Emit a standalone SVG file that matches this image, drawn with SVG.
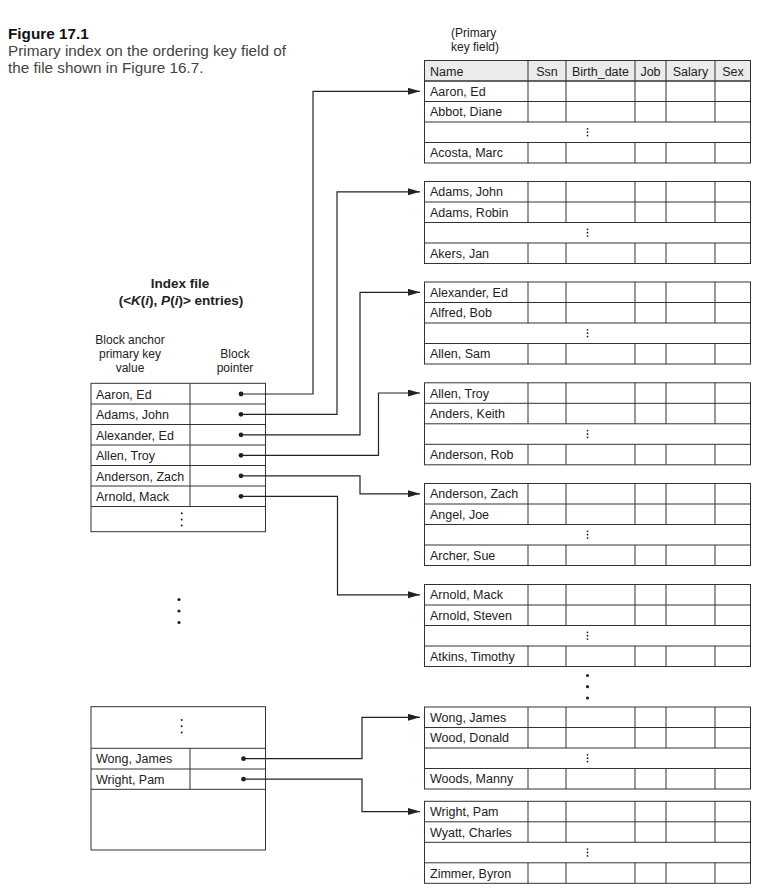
<svg xmlns="http://www.w3.org/2000/svg" width="764" height="890" viewBox="0 0 764 890">
<style>
text{font-family:"Liberation Sans",Arial,sans-serif;fill:#222}
.cap{font-size:15.3px;fill:#444}
.capb{font-size:15.3px;font-weight:bold;fill:#111}
.t{font-size:12.5px}
.h{font-size:12px}
.hb{font-size:13.5px;font-weight:bold}
.c{text-anchor:middle}
.box{fill:#fff;stroke:#333;stroke-width:1}
.hdr{fill:#ebebeb;stroke:#333;stroke-width:1}
.ln{stroke:#333;stroke-width:1;fill:none}
.con{stroke:#222;stroke-width:1.2;fill:none;marker-end:url(#arr)}
.dot{fill:#222}
</style>
<defs>
<marker id="arr" markerUnits="userSpaceOnUse" markerWidth="13" markerHeight="8" refX="12" refY="3.5" orient="auto">
<path d="M0,0 L12,3.5 L0,7 z" fill="#222"/>
</marker>
<g id="cols">
<line class="ln" x1="528" y1="0" x2="528" y2="41"/>
<line class="ln" x1="566" y1="0" x2="566" y2="41"/>
<line class="ln" x1="635" y1="0" x2="635" y2="41"/>
<line class="ln" x1="666" y1="0" x2="666" y2="41"/>
<line class="ln" x1="715" y1="0" x2="715" y2="41"/>
<line class="ln" x1="528" y1="61.5" x2="528" y2="82"/>
<line class="ln" x1="566" y1="61.5" x2="566" y2="82"/>
<line class="ln" x1="635" y1="61.5" x2="635" y2="82"/>
<line class="ln" x1="666" y1="61.5" x2="666" y2="82"/>
<line class="ln" x1="715" y1="61.5" x2="715" y2="82"/>
<rect class="ln" x="424.5" y="0" width="326" height="82"/>
<line class="ln" x1="424.5" y1="20.5" x2="750.5" y2="20.5"/>
<line class="ln" x1="424.5" y1="41" x2="750.5" y2="41"/>
<line class="ln" x1="424.5" y1="61.5" x2="750.5" y2="61.5"/>
<circle class="dot" cx="587.5" cy="47.8" r="0.9"/>
<circle class="dot" cx="587.5" cy="51.2" r="0.9"/>
<circle class="dot" cx="587.5" cy="54.6" r="0.9"/>
</g>
</defs>

<g id="caption">
<text class="capb" x="8" y="39">Figure 17.1</text>
<text class="cap" x="8" y="56">Primary index on the ordering key field of</text>
<text class="cap" x="8" y="72.5">the file shown in Figure 16.7.</text>
</g>

<g id="pk-label">
<text class="h" x="451" y="37">(Primary</text>
<text class="h" x="451" y="51">key field)</text>
</g>

<g id="data-header">
<rect class="hdr" x="424.5" y="60.5" width="326" height="20.5"/>
<line class="ln" x1="528" y1="60.5" x2="528" y2="81"/>
<line class="ln" x1="566" y1="60.5" x2="566" y2="81"/>
<line class="ln" x1="635" y1="60.5" x2="635" y2="81"/>
<line class="ln" x1="666" y1="60.5" x2="666" y2="81"/>
<line class="ln" x1="715" y1="60.5" x2="715" y2="81"/>
<text class="t" x="430" y="75.5">Name</text>
<text class="t c" x="547" y="75.5">Ssn</text>
<text class="t c" x="600.5" y="75.5">Birth_date</text>
<text class="t c" x="650.5" y="75.5">Job</text>
<text class="t c" x="690.5" y="75.5">Salary</text>
<text class="t c" x="733" y="75.5">Sex</text>
</g>

<g id="block1">
<use href="#cols" y="81"/>
<text class="t" x="430" y="95.8">Aaron, Ed</text>
<text class="t" x="430" y="116.3">Abbot, Diane</text>
<text class="t" x="430" y="157.3">Acosta, Marc</text>
</g>
<g id="block2">
<use href="#cols" y="181.5"/>
<text class="t" x="430" y="196.3">Adams, John</text>
<text class="t" x="430" y="216.8">Adams, Robin</text>
<text class="t" x="430" y="257.8">Akers, Jan</text>
</g>
<g id="block3">
<use href="#cols" y="282"/>
<text class="t" x="430" y="296.8">Alexander, Ed</text>
<text class="t" x="430" y="317.3">Alfred, Bob</text>
<text class="t" x="430" y="358.3">Allen, Sam</text>
</g>
<g id="block4">
<use href="#cols" y="382.8"/>
<text class="t" x="430" y="397.6">Allen, Troy</text>
<text class="t" x="430" y="418.1">Anders, Keith</text>
<text class="t" x="430" y="459.1">Anderson, Rob</text>
</g>
<g id="block5">
<use href="#cols" y="483.5"/>
<text class="t" x="430" y="498.3">Anderson, Zach</text>
<text class="t" x="430" y="518.8">Angel, Joe</text>
<text class="t" x="430" y="559.8">Archer, Sue</text>
</g>
<g id="block6">
<use href="#cols" y="584.5"/>
<text class="t" x="430" y="599.3">Arnold, Mack</text>
<text class="t" x="430" y="619.8">Arnold, Steven</text>
<text class="t" x="430" y="660.8">Atkins, Timothy</text>
</g>
<g id="data-gap-dots">
<circle class="dot" cx="587.5" cy="675.5" r="1.6"/>
<circle class="dot" cx="587.5" cy="686.7" r="1.6"/>
<circle class="dot" cx="587.5" cy="698" r="1.6"/>
</g>
<g id="block7">
<use href="#cols" y="707"/>
<text class="t" x="430" y="721.8">Wong, James</text>
<text class="t" x="430" y="742.3">Wood, Donald</text>
<text class="t" x="430" y="783.3">Woods, Manny</text>
</g>
<g id="block8">
<use href="#cols" y="801.3"/>
<text class="t" x="430" y="816.1">Wright, Pam</text>
<text class="t" x="430" y="836.6">Wyatt, Charles</text>
<text class="t" x="430" y="877.6">Zimmer, Byron</text>
</g>

<g id="index-title">
<text class="hb c" x="180" y="287.5">Index file</text>
<text class="hb c" x="181" y="304.5">(&lt;<tspan font-style="italic">K</tspan>(<tspan font-style="italic">i</tspan>), <tspan font-style="italic">P</tspan>(<tspan font-style="italic">i</tspan>)&gt; entries)</text>
<text class="h c" x="130" y="343.5">Block anchor</text>
<text class="h c" x="130" y="357.5">primary key</text>
<text class="h c" x="130" y="371.5">value</text>
<text class="h c" x="235" y="357.5">Block</text>
<text class="h c" x="235" y="371.5">pointer</text>
</g>

<g id="index-top">
<rect class="box" x="91" y="383.3" width="174.5" height="148.4"/>
<line class="ln" x1="91" y1="404" x2="265.5" y2="404"/>
<line class="ln" x1="91" y1="424.5" x2="265.5" y2="424.5"/>
<line class="ln" x1="91" y1="445" x2="265.5" y2="445"/>
<line class="ln" x1="91" y1="465.5" x2="265.5" y2="465.5"/>
<line class="ln" x1="91" y1="486" x2="265.5" y2="486"/>
<line class="ln" x1="91" y1="506.5" x2="265.5" y2="506.5"/>
<line class="ln" x1="190" y1="383.3" x2="190" y2="506.5"/>
<text class="t" x="96" y="398.5">Aaron, Ed</text>
<text class="t" x="96" y="419">Adams, John</text>
<text class="t" x="96" y="439.5">Alexander, Ed</text>
<text class="t" x="96" y="460">Allen, Troy</text>
<text class="t" x="96" y="480.5">Anderson, Zach</text>
<text class="t" x="96" y="501">Arnold, Mack</text>
<circle class="dot" cx="181.7" cy="513.3" r="1"/>
<circle class="dot" cx="181.7" cy="519.4" r="1"/>
<circle class="dot" cx="181.7" cy="525.6" r="1"/>
</g>

<g id="index-gap-dots">
<circle class="dot" cx="179" cy="599.5" r="1.6"/>
<circle class="dot" cx="179" cy="611" r="1.6"/>
<circle class="dot" cx="179" cy="622.5" r="1.6"/>
</g>

<g id="index-bottom">
<rect class="box" x="91" y="706.7" width="174.5" height="143.3"/>
<line class="ln" x1="91" y1="748.3" x2="265.5" y2="748.3"/>
<line class="ln" x1="91" y1="769" x2="265.5" y2="769"/>
<line class="ln" x1="91" y1="789.3" x2="265.5" y2="789.3"/>
<line class="ln" x1="190" y1="748.3" x2="190" y2="789.3"/>
<circle class="dot" cx="181.7" cy="720" r="1"/>
<circle class="dot" cx="181.7" cy="726.2" r="1"/>
<circle class="dot" cx="181.7" cy="732.4" r="1"/>
<text class="t" x="96" y="763.2">Wong, James</text>
<text class="t" x="96" y="783.6">Wright, Pam</text>
</g>

<g id="connectors">
<path class="con" d="M241,394 H313 V91.3 H420"/>
<path class="con" d="M241,414.3 H337 V191.8 H420"/>
<path class="con" d="M241,434.8 H360 V292.3 H420"/>
<path class="con" d="M241,455.3 H378.5 V393 H420"/>
<path class="con" d="M241,475.8 H360 V493.8 H420"/>
<path class="con" d="M241,496.3 H337.5 V594.8 H420"/>
<path class="con" d="M243.5,758.7 H362 V717.3 H420"/>
<path class="con" d="M243.5,779.2 H362 V811.6 H420"/>
<circle class="dot" cx="241" cy="394" r="2.4"/>
<circle class="dot" cx="241" cy="414.3" r="2.4"/>
<circle class="dot" cx="241" cy="434.8" r="2.4"/>
<circle class="dot" cx="241" cy="455.3" r="2.4"/>
<circle class="dot" cx="241" cy="475.8" r="2.4"/>
<circle class="dot" cx="241" cy="496.3" r="2.4"/>
<circle class="dot" cx="243.5" cy="758.7" r="2.4"/>
<circle class="dot" cx="243.5" cy="779.2" r="2.4"/>
</g>
</svg>
